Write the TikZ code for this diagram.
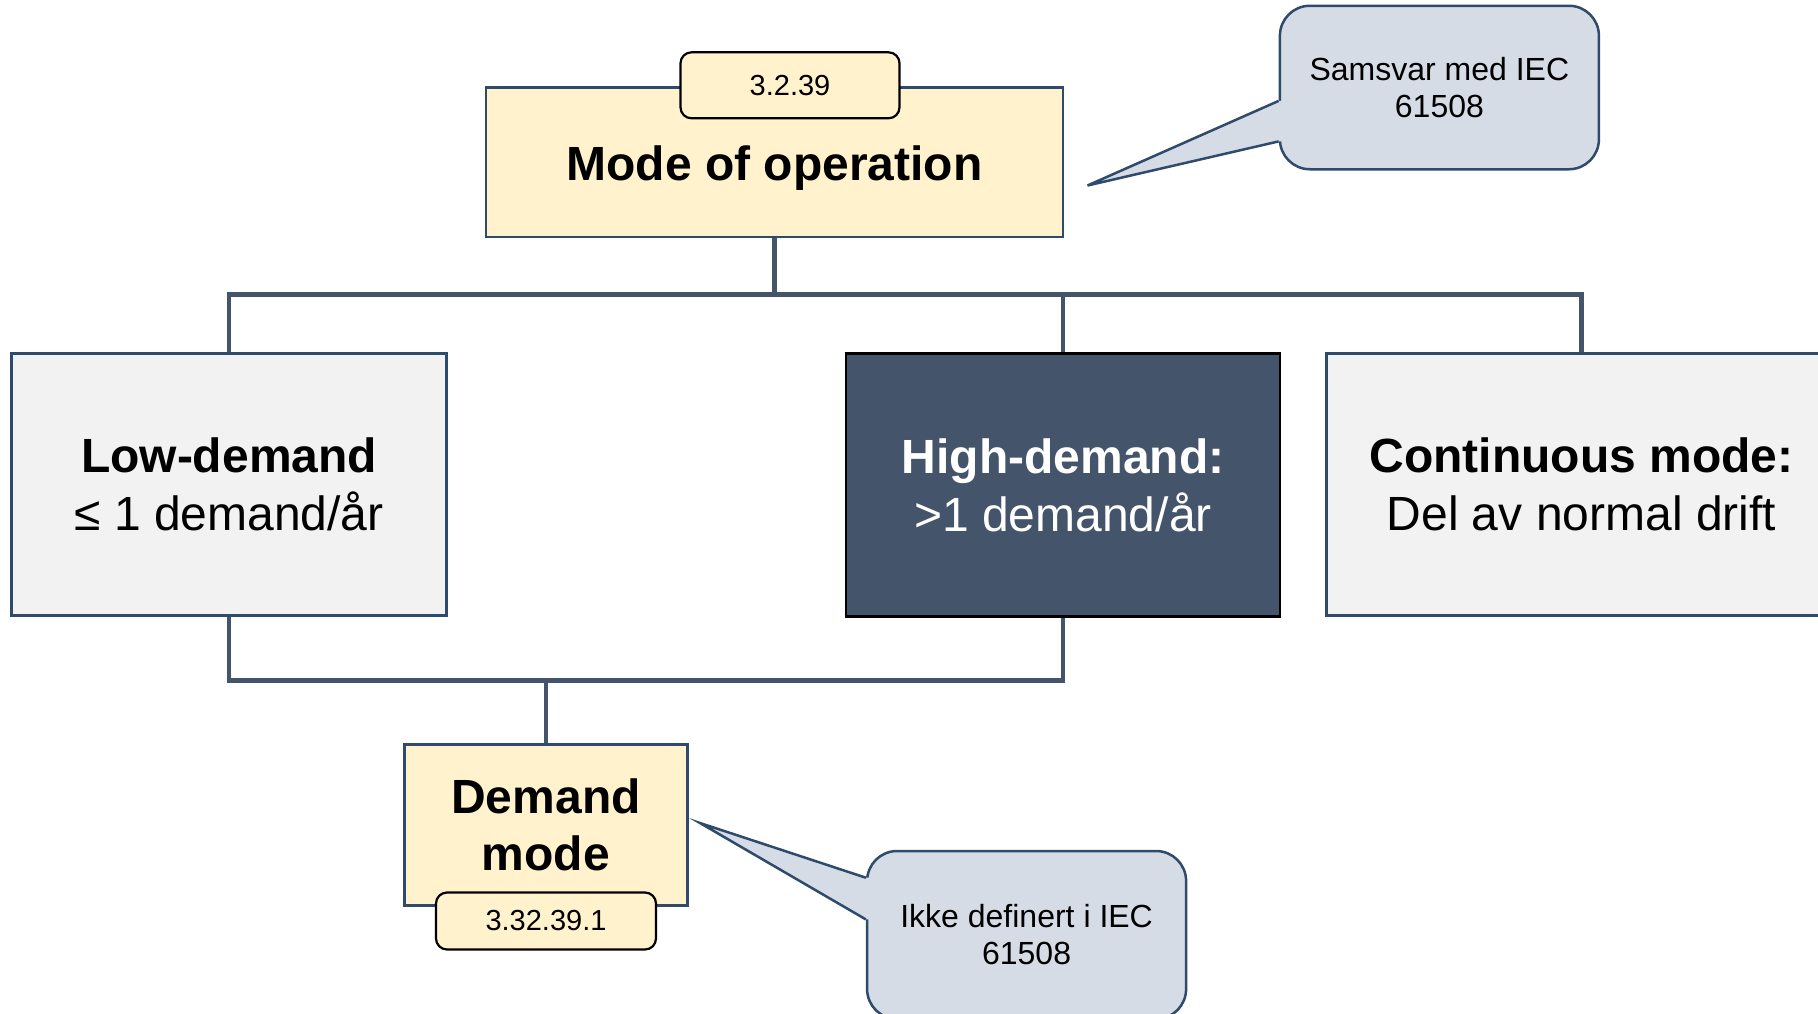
\documentclass[tikz,border=0pt]{standalone}
\usepackage{fontspec}
\setmainfont{Liberation Sans}
\definecolor{slate}{HTML}{44546A}
\definecolor{edge}{HTML}{2F4B6B}
\definecolor{cream}{HTML}{FFF2CC}
\definecolor{lightgrey}{HTML}{F2F2F2}
\definecolor{bubble}{HTML}{D6DCE5}
\tikzset{
  link/.style={draw=slate, line width=4.5pt},
  termbox/.style={draw=edge, line width=2.5pt, fill=cream, align=center, inner sep=0pt,
    font=\fontsize{48}{58}\selectfont\bfseries},
  modebox/.style={draw=edge, line width=2.5pt, fill=lightgrey, align=center, inner sep=0pt,
    font=\fontsize{48}{58}\selectfont},
  darkbox/.style={draw=black, line width=2.5pt, fill=slate, text=white, align=center, inner sep=0pt,
    font=\fontsize{48}{58}\selectfont},
  tag/.style={draw=black, line width=2.2pt, fill=cream, rounded corners=11pt, inner sep=0pt,
    font=\fontsize{29}{34}\selectfont},
  note/.style={draw=edge, line width=2.5pt, fill=bubble, rounded corners=30pt, align=center, inner sep=0pt,
    font=\fontsize{32}{37}\selectfont},
  tail/.style={draw=edge, line width=2.5pt, line join=miter},
}
\begin{document}
\begin{tikzpicture}[x=1pt,y=-1pt]
\useasboundingbox (0,0) rectangle (1818,1013);

% junction levels of the tree connectors
\coordinate (bus) at (774.5,294.5);
\coordinate (jn) at (546,680.6);

% boxes
\node[termbox, minimum width=577pt, minimum height=149.5pt] (mode) at (774.5,162) {\raisebox{-6pt}[\height][\depth]{Mode of operation}};
\node[modebox, minimum width=435pt, minimum height=262pt] (low) at (229,484.6) {\textbf{Low-demand}\\≤ 1 demand/år};
\node[darkbox, minimum width=434pt, minimum height=263pt] (high) at (1063,485.2) {\textbf{High-demand:}\\>1 demand/år};
\node[modebox, minimum width=510pt, minimum height=262pt] (cont) at (1581.4,484.6) {\textbf{Continuous mode:}\\Del av normal drift};
\node[termbox, minimum width=283pt, minimum height=161pt, font=\fontsize{48}{57}\selectfont\bfseries] (dem) at (546,825) {Demand\\mode};

% connectors
\draw[link] (mode.south) -- (mode.south |- bus);
\draw[link] (low.north) -- (low.north |- bus) -- (cont.north |- bus) -- (cont.north);
\draw[link] (high.north) -- (high.north |- bus);
\draw[link] (low.south) -- (low.south |- jn) -- (high.south |- jn) -- (high.south);
\draw[link] (dem.north) -- (dem.north |- jn);

% clause tags
\node[tag, minimum width=219pt, minimum height=66pt] (tagA) at (790,85.3) {3.2.39};
\node[tag, minimum width=220pt, minimum height=57pt] (tagB) at (546,921) {3.32.39.1};

% speech bubbles
\node[note, minimum width=319pt, minimum height=163.5pt] (noteA) at (1439.4,87.5) {Samsvar med IEC\\61508};
\coordinate (tipA) at (1087.5,185.5);
\fill[bubble] (tipA) -- (noteA.west |- 0,100.9) -- ([xshift=6pt]noteA.west |- 0,100.9) -- ([xshift=6pt]noteA.west |- 0,141.4) -- (noteA.west |- 0,141.4) -- cycle;
\draw[tail] (noteA.west |- 0,100.9) -- (tipA) -- (noteA.west |- 0,141.4);

\node[note, minimum width=319pt, minimum height=168pt] (noteB) at (1026.6,935) {Ikke definert i IEC\\61508};
\coordinate (tipB) at (700,823);
\fill[bubble] (tipB) -- (noteB.west |- 0,877.7) -- ([xshift=6pt]noteB.west |- 0,877.7) -- ([xshift=6pt]noteB.west |- 0,919.4) -- (noteB.west |- 0,919.4) -- cycle;
\draw[tail] (noteB.west |- 0,877.7) -- (tipB) -- (noteB.west |- 0,919.4);
\end{tikzpicture}
\end{document}
